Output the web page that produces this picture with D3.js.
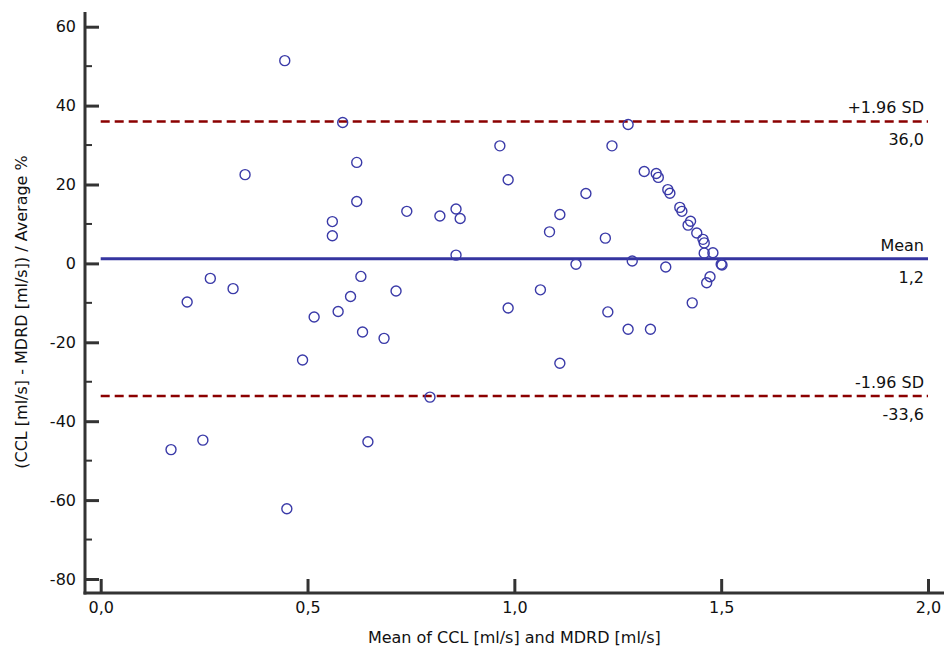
<!DOCTYPE html>
<html>
<head>
<meta charset="utf-8">
<script src="https://cdn.jsdelivr.net/npm/d3@7"></script>
<style>
  body { margin: 0; background: #fff; }
  text { font-family: "DejaVu Sans", sans-serif; fill: #111; }
</style>
</head>
<body>
<div id="graph"></div>
<script>
// mean of the two methods [ml/s]
var meanX = [0.445, 0.349, 0.585, 0.560, 0.560, 0.619, 0.619, 0.740, 0.820, 0.859,
  0.869, 0.859, 0.965, 0.985, 1.085, 1.110, 1.173, 1.236, 1.275, 1.220,
  1.149, 1.285, 1.366, 1.314, 1.343, 1.348, 1.371, 1.376, 1.400, 1.405,
  1.426, 1.420, 1.441, 1.456, 1.459, 1.459, 1.480, 1.500, 1.502, 1.473,
  1.465, 1.430, 1.275, 1.329, 1.226, 1.110, 1.063, 0.985, 0.796, 0.685,
  0.633, 0.629, 0.604, 0.574, 0.516, 0.488, 0.714, 0.646, 0.450, 0.170,
  0.247, 0.209, 0.265, 0.320]
// difference / average %
var diffPct = [51.4, 22.5, 35.7, 10.6, 7.0, 25.6, 15.7, 13.2, 12.0, 13.8,
  11.4, 2.1, 29.8, 21.2, 8.0, 12.4, 17.7, 29.8, 35.2, 6.4,
  -0.2, 0.6, -0.9, 23.3, 22.8, 21.8, 18.7, 17.8, 14.2, 13.2,
  10.7, 9.7, 7.7, 6.1, 5.2, 2.6, 2.7, -0.2, -0.4, -3.4,
  -4.9, -10.0, -16.7, -16.7, -12.3, -25.3, -6.7, -11.3, -33.9, -19.0,
  -17.4, -3.3, -8.4, -12.2, -13.6, -24.5, -7.0, -45.2, -62.2, -47.2,
  -44.8, -9.8, -3.8, -6.4]

var refNames = ['+1.96 SD', 'Mean', '-1.96 SD']
var refValues = [36.0, 1.2, -33.6]
var refKinds = ['sd', 'mean', 'sd']

var xTicks = [0, 0.5, 1, 1.5, 2]
var yTicks = [60, 40, 20, 0, -20, -40, -60, -80]
var yMinor = [50, 30, 10, -10, -30, -50, -70]

var xTitle = 'Mean of CCL [ml/s] and MDRD [ml/s]'
var yTitle = '(CCL [ml/s] - MDRD [ml/s]) / Average %'

var W = 944, H = 649
var axisX = 85, axisY = 593

var svg = d3.select('#graph').append('svg').attr('width', W).attr('height', H)

var x = d3.scaleLinear().domain([0, 2]).range([100.7, 928])
var y = d3.scaleLinear().domain([-80, 60]).range([579, 26.7])

// plain hyphen minus and decimal comma, like the original
var comma = d => d.toFixed(1).replace('.', ',')
var whole = d => String(d)

// y axis
var yAxis = svg.append('g')
  .attr('transform', 'translate(' + axisX + ',0)')
  .call(d3.axisLeft(y).tickValues(yTicks).tickSizeInner(-14).tickSizeOuter(0).tickPadding(9).tickFormat(whole))
yAxis.select('.domain').remove()
yAxis.selectAll('line').attr('stroke', '#333').attr('stroke-width', 3)
yAxis.selectAll('text').style('font-size', '16px').attr('fill', '#111')

svg.append('g').selectAll('line').data(yMinor).join('line')
  .attr('x1', axisX).attr('x2', axisX + 7)
  .attr('y1', d => y(d)).attr('y2', d => y(d))
  .attr('stroke', '#333').attr('stroke-width', 2)

// x axis
var xAxis = svg.append('g')
  .attr('transform', 'translate(0,' + axisY + ')')
  .call(d3.axisBottom(x).tickValues(xTicks).tickSizeInner(-14).tickSizeOuter(0).tickPadding(9).tickFormat(comma))
xAxis.select('.domain').remove()
xAxis.selectAll('line').attr('stroke', '#333').attr('stroke-width', 3)
xAxis.selectAll('text').style('font-size', '16px').attr('fill', '#111')

svg.selectAll('.tick text').attr('font-family', null)
svg.selectAll('g').attr('font-family', null)

// axis lines
svg.append('line').attr('x1', axisX).attr('x2', axisX).attr('y1', 12).attr('y2', axisY + 1.5)
  .attr('stroke', '#333').attr('stroke-width', 3)
svg.append('line').attr('x1', axisX - 1.5).attr('x2', W).attr('y1', axisY).attr('y2', axisY)
  .attr('stroke', '#333').attr('stroke-width', 3)

// reference lines
var refs = refValues.map((v, i) => ({v: v, name: refNames[i], kind: refKinds[i]}))

svg.append('g').selectAll('line').data(refs).join('line')
  .attr('x1', x(0)).attr('x2', x(2))
  .attr('y1', d => y(d.v)).attr('y2', d => y(d.v))
  .attr('stroke', d => d.kind == 'mean' ? '#3535a0' : '#8b0000')
  .attr('stroke-width', d => d.kind == 'mean' ? 3 : 2.5)
  .attr('stroke-dasharray', d => d.kind == 'mean' ? null : '9,5')

var lab = svg.append('g').selectAll('g').data(refs).join('g')
  .attr('transform', d => 'translate(' + (x(2) - 4) + ',' + y(d.v) + ')')
lab.append('text').attr('text-anchor', 'end').attr('y', -8)
  .style('font-size', '16px').text(d => d.name)
lab.append('text').attr('text-anchor', 'end').attr('y', 24)
  .style('font-size', '16px').text(d => comma(d.v))

// points
var pts = meanX.map((d, i) => ({x: d, y: diffPct[i]}))
svg.append('g').selectAll('circle').data(pts).join('circle')
  .attr('cx', d => x(d.x)).attr('cy', d => y(d.y)).attr('r', 5)
  .attr('fill', 'none').attr('stroke', '#3a3aa8').attr('stroke-width', 1.4)

// titles
svg.append('text').attr('x', (x(0) + x(2)) / 2).attr('y', 643)
  .attr('text-anchor', 'middle').style('font-size', '16px').text(xTitle)
svg.append('text').attr('transform', 'translate(27,' + 312 + ') rotate(-90)')
  .attr('text-anchor', 'middle').style('font-size', '16px').text(yTitle)
</script>
</body>
</html>
